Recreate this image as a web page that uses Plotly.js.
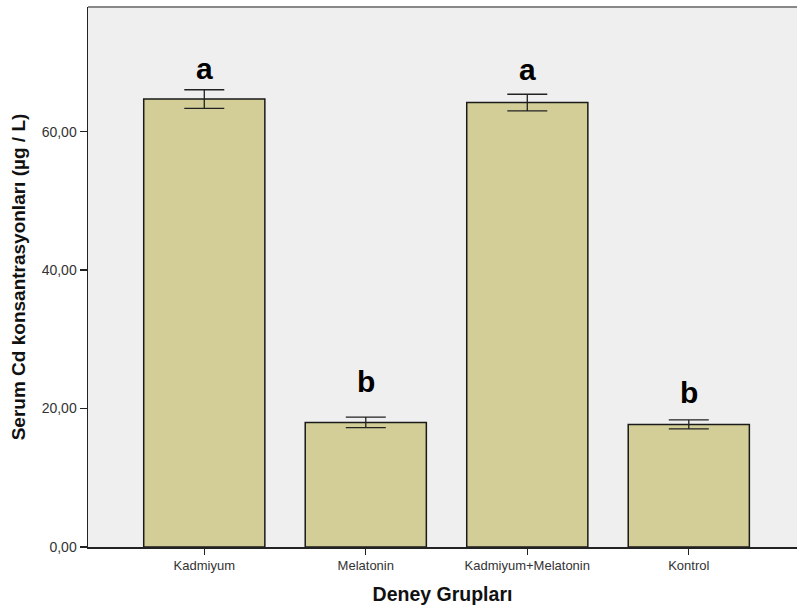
<!DOCTYPE html>
<html>
<head>
<meta charset="utf-8">
<script src="https://cdn.plot.ly/plotly-3.0.1.min.js"></script>
<style>html,body{margin:0;padding:0;background:#fff;}#chart{width:797px;height:614px;}</style>
</head>
<body>
<div id="chart"></div>
<script>
var categories = ["Kadmiyum", "Melatonin", "Kadmiyum+Melatonin", "Kontrol"];
var means = [64.7, 18.0, 64.2, 17.7];
var errors = [1.35, 0.75, 1.2, 0.65];
var letters = ["a", "b", "a", "b"];
var letterY = [67.8, 22.5, 67.6, 21.0];
var yTicks = [0, 20, 40, 60];

var trace = {
  type: "bar",
  x: categories,
  y: means,
  width: 0.75,
  marker: {color: "#d3ce97", line: {color: "#1a1a1a", width: 1.5}},
  error_y: {type: "data", array: errors, visible: true, color: "#222", thickness: 1.3, width: 20},
  hoverinfo: "none"
};

var annotations = categories.map(function (c, i) {
  return {
    x: c, y: letterY[i], xref: "x", yref: "y",
    text: "<b>" + letters[i] + "</b>", showarrow: false,
    yanchor: "bottom", yshift: -9,
    font: {family: "Liberation Sans, Arial, sans-serif", size: 30, color: "#000"}
  };
});

var layout = {
  width: 797, height: 614,
  margin: {l: 88, r: 0, t: 7, b: 67},
  paper_bgcolor: "#ffffff",
  plot_bgcolor: "#efefef",
  showlegend: false,
  separators: ",.",
  font: {family: "Liberation Sans, Arial, sans-serif", color: "#333"},
  xaxis: {
    type: "category",
    range: [-0.72, 3.67],
    showline: true, linecolor: "#222", linewidth: 1.5,
    ticks: "outside", ticklen: 6, tickcolor: "#222", tickwidth: 1.3,
    tickfont: {size: 13, color: "#333"},
    showgrid: false, zeroline: false,
    title: {text: "<b>Deney Grupları</b>", font: {size: 19.5, color: "#111"}, standoff: 15}
  },
  yaxis: {
    range: [0, 78],
    tickvals: yTicks,
    tickformat: ".2f",
    showline: true, linecolor: "#222", linewidth: 1.5,
    ticks: "outside", ticklen: 7, tickcolor: "#222", tickwidth: 1.3,
    tickfont: {size: 14, color: "#333"},
    showgrid: false, zeroline: false,
    title: {text: "<b>Serum Cd konsantrasyonları (µg / L)</b>", font: {size: 19, color: "#111"}, standoff: 11}
  },
  shapes: [{
    type: "line", xref: "paper", yref: "paper", x0: 0, x1: 1, y0: 1, y1: 1,
    line: {color: "#888", width: 2}
  }],
  annotations: annotations
};

Plotly.newPlot("chart", [trace], layout, {staticPlot: true, displayModeBar: false});
</script>
</body>
</html>
